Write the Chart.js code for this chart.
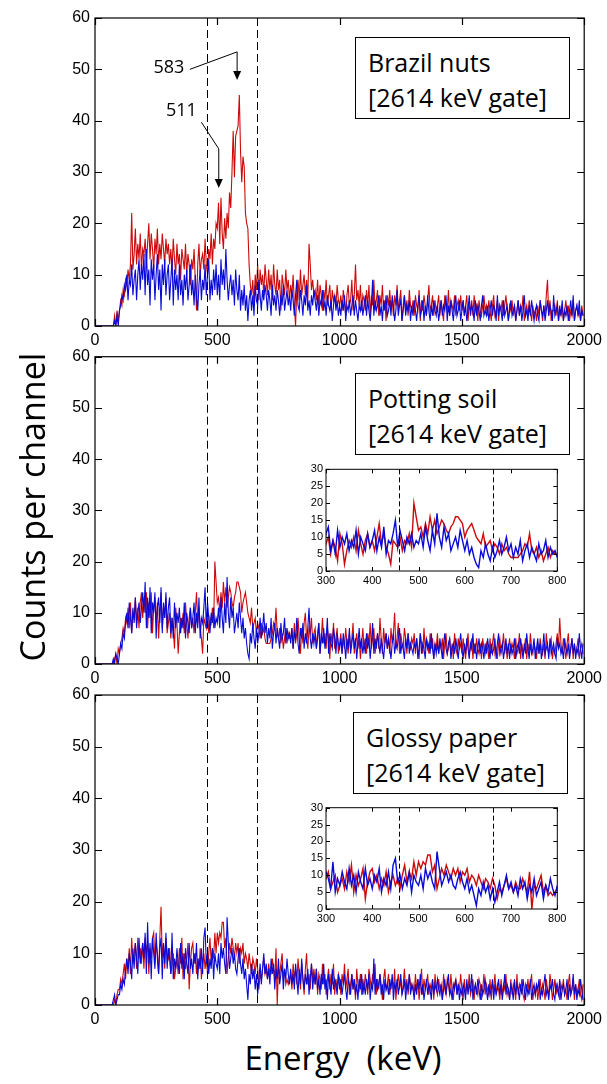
<!DOCTYPE html>
<html>
<head>
<meta charset="utf-8">
<script src="https://cdn.jsdelivr.net/npm/chart.js@4.4.1/dist/chart.umd.min.js"></script>
<style>
    body { margin: 0; background: #fff; width: 607px; height: 1084px; position: relative; overflow: hidden; font-family: 'Open Sans', sans-serif; }
    canvas { position: absolute; }
    .box { position: absolute; border: 1px solid #000; background: #fff; box-sizing: border-box; width: 215px; height: 82px; padding: 7px 0 0 12px; font-size: 25px; line-height: 35px; color: #000; white-space: nowrap; }
    .ytitle { position: absolute; left: -168px; top: 487px; width: 400px; height: 40px; line-height: 40px; text-align: center; font-size: 34px; transform: rotate(-90deg); }
    .xtitle { position: absolute; left: 143px; top: 1036px; width: 400px; height: 44px; line-height: 44px; text-align: center; font-size: 33px; white-space: pre; }
</style>
</head>
<body>
<canvas id="p1" width="607" height="352" style="left:0;top:0"></canvas>
<canvas id="p2" width="607" height="350" style="left:0;top:340px"></canvas>
<canvas id="p3" width="607" height="351" style="left:0;top:680px"></canvas>
<canvas id="i2" width="290" height="132" style="left:280px;top:459px"></canvas>
<canvas id="i3" width="290" height="132" style="left:280px;top:797px"></canvas>

<div class="box" style="left:355px;top:37px">Brazil nuts<br>[2614 keV gate]</div>
<div class="box" style="left:355px;top:373px">Potting soil<br>[2614 keV gate]</div>
<div class="box" style="left:353px;top:712px">Glossy paper<br>[2614 keV gate]</div>
<div class="ytitle">Counts per channel</div>
<div class="xtitle">Energy  (keV)</div>

<script>
// channel width in keV, channel i sits at i * BIN
const BIN = 5;
const GATES = [458, 662];

// Brazil nuts
const nutsRed = [
    0,0,0,0,0,0,0,0,0,0,0,0,0,0,0,0,2,0,3,1,
    3,5,4,7,6,9,8,11,9,12,22,11,14,19,12,16,13,18,11,15,
    14,17,12,16,20,13,18,15,11,17,14,19,12,16,13,18,15,12,17,14,
    16,12,15,11,17,13,10,16,12,14,9,15,13,11,16,10,14,12,8,13,
    11,15,9,3,12,16,10,13,14,11,17,12,10,15,13,18,12,17,15,20,
    19,24,16,25,18,15,21,17,22,19,26,23,30,38,29,37,38,39,45,34,
    28,33,31,22,20,19,12,8,6,9,4,10,7,12,5,11,8,10,6,12,
    9,6,11,7,10,5,12,8,6,11,7,9,3,10,8,6,11,7,9,5,
    8,6,10,4,0,7,9,5,11,6,8,10,6,9,5,16,12,7,9,6,
    7,5,9,4,8,6,3,7,5,9,4,6,8,3,7,5,6,4,8,5,
    4,6,3,7,5,2,6,8,4,5,9,3,6,12,5,7,4,8,3,6,
    5,3,7,4,8,2,6,4,9,3,5,7,2,6,4,8,3,5,1,6,
    4,7,3,5,2,6,4,8,3,5,7,1,4,6,3,5,2,7,4,3,
    5,2,6,4,3,7,1,5,3,6,4,2,5,8,3,4,6,2,5,3,
    4,6,2,5,3,1,6,4,3,7,2,5,4,3,6,2,4,5,3,6,
    3,5,2,4,6,1,4,3,5,2,6,3,4,1,5,3,2,4,6,3,
    4,2,5,3,1,4,6,2,3,5,1,4,3,5,2,4,6,3,1,4,
    3,5,2,4,1,3,5,2,4,3,6,1,3,4,2,5,3,1,4,2,
    3,1,4,2,5,3,1,4,2,6,9,2,5,1,3,3,4,2,5,1,
    3,2,4,1,3,5,2,4,1,3,2,5,1,3,4,2,3,1,4,2
];
const nutsBlue = [
    0,0,0,0,0,0,0,0,0,0,0,0,0,0,0,0,1,0,2,0,
    3,4,6,5,8,7,10,5,9,8,12,6,9,11,5,10,13,7,12,9,
    14,6,15,8,11,4,13,9,12,5,10,14,7,11,3,12,8,13,6,10,
    12,5,9,13,4,11,7,10,5,12,6,9,4,10,7,11,5,8,12,6,
    9,4,10,6,3,8,11,5,9,7,12,6,10,13,5,9,6,11,7,12,
    6,10,5,13,8,11,7,15,9,5,8,10,6,9,4,11,7,5,10,3,
    7,4,8,3,6,1,5,7,3,6,2,8,5,4,9,6,3,7,5,8,
    6,3,7,5,2,8,4,6,3,7,5,2,6,4,8,3,5,7,4,6,
    3,7,5,2,6,9,4,3,7,5,2,6,4,8,3,5,2,6,4,7,
    5,3,6,2,5,4,7,3,5,2,6,4,3,5,1,4,6,3,5,2,
    4,2,5,3,6,1,4,3,5,2,4,6,2,5,3,1,4,3,5,2,
    4,6,2,5,3,1,4,9,2,5,3,4,6,2,4,1,5,3,6,2,
    3,5,2,6,4,1,3,7,2,4,5,1,3,6,2,4,3,5,1,4,
    2,5,3,1,4,6,2,3,5,1,4,2,6,3,1,4,2,5,3,2,
    4,1,3,5,2,4,3,6,1,4,2,5,3,1,4,6,2,3,5,1,
    3,5,2,4,1,3,6,2,4,3,1,5,2,4,3,1,4,6,2,3,
    2,4,1,3,5,2,4,3,1,6,2,4,3,1,5,2,3,4,1,3,
    5,2,3,4,1,3,5,2,4,1,3,6,2,3,1,4,2,5,3,1,
    3,4,2,1,5,3,2,4,1,3,5,2,4,3,1,6,2,3,4,1,
    4,2,5,1,3,2,4,1,3,5,2,6,1,3,4,2,5,1,3,2
];

// Potting soil
const soilRed = [
    0,0,0,0,0,0,0,0,0,0,0,0,0,0,0,0,1,2,0,3,
    2,4,5,7,6,9,8,11,7,12,6,10,9,13,8,11,7,12,14,9,
    13,10,14,7,12,9,14,6,11,13,8,12,5,10,14,7,11,9,13,6,
    8,10,5,9,7,3,11,8,2,6,9,7,10,6,12,8,5,9,11,7,
    9,6,10,14,8,11,7,5,2,9,8,7,10,6,9,8,11,7,20,16,
    12,13,10,14,11,16,12,15,11,13,15,14,12,11,13,14,16,16,15,14,
    10,12,13,14,12,10,9,8,11,7,8,9,6,8,7,5,8,6,7,5,
    4,4,4,4,5,6,8,7,11,6,5,7,4,6,3,5,7,4,6,5,
    5,7,3,8,4,6,9,5,2,7,4,8,10,5,3,7,6,9,4,6,
    7,3,6,8,2,5,9,4,6,3,7,5,1,6,4,8,3,5,7,2,
    4,6,2,5,3,7,4,2,6,3,5,8,2,4,6,3,5,1,4,7,
    3,5,2,6,4,8,3,5,7,2,4,6,3,9,5,2,7,4,6,3,
    5,2,7,4,6,10,3,5,8,2,6,4,3,7,5,2,6,4,3,5,
    4,6,2,5,3,1,6,4,2,7,3,5,4,2,6,3,5,1,4,3,
    6,2,4,3,5,1,4,6,2,3,5,2,4,1,6,3,2,5,3,4,
    2,5,3,1,4,6,2,3,5,1,4,2,5,3,2,4,1,5,3,2,
    4,3,1,5,2,4,6,2,3,1,4,5,2,3,6,2,4,1,3,5,
    2,4,3,1,5,2,3,6,1,4,2,3,5,1,4,2,6,3,2,4,
    3,1,4,2,5,3,2,4,1,6,3,2,4,5,1,3,2,4,6,3,
    9,4,2,5,3,1,4,6,2,3,5,1,4,2,3,5,1,3,4,2
];
const soilBlue = [
    0,0,0,0,0,0,0,0,0,0,0,0,0,0,0,1,0,2,1,0,
    2,4,3,6,5,8,10,7,12,9,6,11,8,13,7,10,12,8,11,14,
    10,16,7,13,9,15,6,12,10,14,5,11,13,8,15,6,12,9,14,7,
    11,13,6,9,5,12,7,10,8,11,6,9,7,12,5,10,8,6,11,7,
    9,12,6,10,7,13,5,9,8,11,15,7,12,9,6,10,8,11,7,9,
    8,11,7,13,9,6,12,8,17,10,7,13,9,11,6,8,10,7,12,9,
    6,9,5,7,4,2,1,6,4,8,5,3,7,4,6,9,5,7,10,6,
    8,4,7,5,9,3,6,8,4,7,5,3,8,5,6,9,4,7,5,6,
    4,7,3,6,5,9,4,2,7,5,8,3,6,4,7,11,5,3,6,4,
    6,3,5,8,2,6,4,7,3,5,9,2,6,4,3,7,5,2,6,4,
    3,5,2,6,4,1,5,3,7,2,4,6,3,5,1,4,7,3,5,2,
    4,2,6,3,5,1,4,8,2,5,3,6,4,2,5,3,1,4,6,3,
    5,3,1,4,6,2,4,3,5,7,2,4,3,1,5,3,6,2,4,3,
    2,4,3,5,1,3,6,2,4,3,1,5,3,4,2,6,3,1,4,2,
    4,2,5,3,1,4,6,3,2,4,5,1,3,4,2,5,3,1,4,6,
    3,1,4,2,5,3,1,4,3,6,2,4,1,3,5,2,4,3,1,4,
    2,5,3,1,4,2,3,5,1,4,6,2,3,4,1,3,5,2,4,1,
    4,2,3,5,1,3,4,2,5,3,1,4,2,6,3,1,4,2,3,5,
    1,3,5,2,4,1,3,6,2,3,4,1,5,2,3,4,2,1,5,3,
    4,2,3,1,5,3,2,4,1,3,5,2,4,1,3,2,6,3,1,4
];

// Glossy paper
const paperRed = [
    0,0,0,0,0,0,0,0,0,0,0,0,0,0,0,0,1,0,2,3,
    3,5,4,6,8,5,9,7,11,6,13,8,10,12,7,13,9,11,8,12,
    7,13,10,12,6,11,9,13,14,8,12,10,6,13,19,9,12,7,13,10,
    9,11,6,8,10,5,7,9,6,11,8,13,5,10,7,9,12,3,8,11,
    12,8,10,6,9,7,11,5,8,10,7,9,6,10,13,8,11,9,14,10,
    14,12,14,13,16,16,11,13,6,9,12,10,13,11,9,12,10,12,8,11,
    10,12,8,10,9,7,10,8,6,9,8,6,9,7,3,6,5,7,9,6,
    7,5,8,6,6,9,7,5,11,0,7,6,8,10,5,7,4,5,4,5,
    6,3,8,5,7,4,9,6,3,8,5,2,7,10,4,6,3,8,5,7,
    4,7,2,6,5,3,8,4,6,2,5,7,3,6,4,8,2,5,3,6,
    5,2,6,4,8,3,5,7,2,4,6,3,5,1,7,4,3,6,2,5,
    3,6,4,2,7,5,3,6,4,8,2,5,3,6,4,1,5,7,3,4,
    6,2,4,5,3,7,1,4,6,3,5,2,4,7,3,5,2,6,4,3,
    4,2,6,3,5,1,4,7,2,5,3,4,6,2,4,3,5,1,6,3,
    2,5,3,4,1,6,3,2,5,4,2,6,3,1,4,5,2,4,3,6,
    3,1,5,2,4,3,6,2,3,5,1,4,3,2,5,4,1,3,6,2,
    4,3,2,5,1,4,3,6,2,4,3,1,5,2,4,3,6,2,3,1,
    5,2,4,3,1,6,2,4,3,5,2,1,4,3,5,2,4,6,1,3,
    2,4,1,3,5,2,4,3,1,5,3,2,6,4,1,3,5,2,4,3,
    1,4,3,5,2,3,1,4,6,2,3,5,1,4,2,3,5,2,1,4
];
const paperBlue = [
    0,0,0,0,0,0,0,0,0,0,0,0,0,0,0,1,2,0,1,2,
    2,4,3,5,4,7,9,6,10,8,5,11,7,12,9,6,13,8,10,12,
    9,14,6,16,8,12,5,13,10,7,14,9,6,11,13,5,12,8,14,7,
    11,9,6,14,5,9,7,11,8,6,12,7,10,5,11,8,6,12,7,9,
    6,10,8,12,5,9,7,11,6,13,15,8,10,6,9,7,11,5,10,8,
    7,10,6,12,9,11,8,6,17,12,7,9,11,8,10,7,6,9,11,8,
    6,9,5,7,4,1,6,4,8,5,7,3,6,2,5,8,4,7,10,6,
    8,5,7,4,9,6,8,3,7,5,9,4,6,8,3,7,5,9,6,4,
    7,4,6,3,8,5,2,7,4,9,5,3,6,4,7,2,5,8,3,6,
    4,7,3,5,2,6,4,8,3,5,1,6,4,2,7,3,5,4,2,6,
    3,5,2,4,6,3,1,5,4,2,6,3,5,2,4,1,5,3,6,2,
    4,2,5,3,6,1,4,3,9,2,5,3,4,6,2,4,1,5,3,4,
    2,5,3,6,1,4,3,5,2,4,6,2,3,5,1,4,3,6,2,4,
    3,1,4,2,5,3,6,2,4,1,3,5,2,4,3,1,5,2,4,3,
    5,3,2,4,1,3,5,2,4,6,2,3,1,4,3,5,2,4,1,3,
    2,4,3,1,5,2,4,3,6,1,3,4,2,5,3,1,4,2,3,5,
    3,1,4,2,3,5,1,4,2,3,5,2,4,1,3,6,2,4,3,1,
    4,3,1,5,2,4,3,1,4,2,5,3,1,4,2,3,5,1,3,4,
    2,4,3,5,1,3,2,4,6,2,3,1,4,3,5,2,1,4,3,2,
    5,1,3,4,2,3,5,1,4,2,3,6,2,4,1,3,2,5,3,1
];

const RED = '#cc0a0a';
const BLUE = '#0a0ad8';
const TICK_FONT = "'Liberation Sans', Arial, sans-serif";

function toPoints(counts) {
    return counts.map((c, i) => ({ x: i * BIN, y: c }));
}

// box, inward ticks on all four sides, dashed gate lines
const framePlugin = {
    id: 'frame',
    beforeDatasetsDraw(chart, args, o) {
        if (!o.fill) return;
        const a = chart.chartArea;
        chart.ctx.save();
        chart.ctx.fillStyle = '#fff';
        chart.ctx.fillRect(a.left, a.top, a.width, a.height);
        chart.ctx.restore();
    },
    afterDatasetsDraw(chart, args, o) {
        const { ctx, chartArea: a, scales: { x, y } } = chart;
        ctx.save();
        ctx.strokeStyle = '#000';
        ctx.lineWidth = 1;
        ctx.setLineDash(o.dash);
        GATES.forEach(g => {
            const px = Math.round(x.getPixelForValue(g)) + 0.5;
            ctx.beginPath();
            ctx.moveTo(px, a.top);
            ctx.lineTo(px, a.bottom);
            ctx.stroke();
        });
        ctx.setLineDash([]);
        ctx.lineWidth = o.width;
        ctx.beginPath();
        x.ticks.forEach(t => {
            const px = Math.round(x.getPixelForValue(t.value)) + 0.5;
            ctx.moveTo(px, a.bottom); ctx.lineTo(px, a.bottom - o.len);
            ctx.moveTo(px, a.top); ctx.lineTo(px, a.top + o.len);
        });
        y.ticks.forEach(t => {
            const py = Math.round(y.getPixelForValue(t.value)) + 0.5;
            ctx.moveTo(a.left, py); ctx.lineTo(a.left + o.len, py);
            ctx.moveTo(a.right, py); ctx.lineTo(a.right - o.len, py);
        });
        ctx.stroke();
        ctx.strokeRect(a.left, a.top, a.right - a.left, a.bottom - a.top);
        ctx.restore();
    }
};

// 583 / 511 labels with leader lines and arrows (data coordinates)
const peakNotes = {
    id: 'peakNotes',
    afterDatasetsDraw(chart, args, o) {
        if (!o.notes) return;
        const { ctx, scales: { x, y } } = chart;
        ctx.save();
        ctx.strokeStyle = '#000';
        ctx.fillStyle = '#000';
        ctx.lineWidth = 1;
        ctx.font = "18px 'Open Sans'";
        ctx.textAlign = 'center';
        ctx.textBaseline = 'middle';
        o.notes.forEach(n => {
            ctx.fillText(n.text, x.getPixelForValue(n.at[0]), y.getPixelForValue(n.at[1]));
            const ex = x.getPixelForValue(n.elbow[0]);
            const ey = y.getPixelForValue(n.elbow[1]);
            const ty = y.getPixelForValue(n.tip);
            ctx.beginPath();
            ctx.moveTo(x.getPixelForValue(n.from[0]), y.getPixelForValue(n.from[1]));
            ctx.lineTo(ex, ey);
            ctx.lineTo(ex, ty - 8);
            ctx.stroke();
            ctx.beginPath();
            ctx.moveTo(ex - 4, ty - 9);
            ctx.lineTo(ex + 4, ty - 9);
            ctx.lineTo(ex, ty);
            ctx.closePath();
            ctx.fill();
        });
        ctx.restore();
    }
};

function spectrum(id, red, blue, o) {
    return new Chart(document.getElementById(id), {
        type: 'line',
        data: {
            datasets: [
                { data: toPoints(blue), borderColor: BLUE, borderWidth: o.lw },
                { data: toPoints(red), borderColor: RED, borderWidth: o.lw }
            ]
        },
        options: {
            responsive: false,
            animation: false,
            events: [],
            elements: { point: { radius: 0 }, line: { tension: 0 } },
            layout: { autoPadding: false, padding: { top: o.top, right: o.right, left: 0, bottom: 0 } },
            plugins: {
                legend: { display: false },
                tooltip: { enabled: false },
                frame: { dash: o.dash, len: o.len, width: o.fw, fill: o.fill },
                peakNotes: { notes: o.notes }
            },
            scales: {
                x: {
                    type: 'linear', min: o.xmin, max: o.xmax,
                    grid: { display: false, drawTicks: false }, border: { display: false },
                    ticks: { stepSize: o.xstep, autoSkip: false, maxRotation: 0, padding: o.pad, color: '#000',
                             font: { family: TICK_FONT, size: o.fs }, callback: v => String(v) },
                    afterFit: s => { s.height = o.xh; }
                },
                y: {
                    min: 0, max: o.ymax,
                    grid: { display: false, drawTicks: false }, border: { display: false },
                    ticks: { stepSize: o.ystep, padding: o.pad, color: '#000',
                             font: { family: TICK_FONT, size: o.fs }, callback: v => String(v) },
                    afterFit: s => { s.width = o.yw; }
                }
            }
        },
        plugins: [framePlugin, peakNotes]
    });
}

const mainOpts = { xmin: 0, xmax: 2000, xstep: 500, ymax: 60, ystep: 10, lw: 1.1, fs: 16, pad: 5,
                   xh: 26, yw: 95, right: 22, len: 7, fw: 1.2, dash: [8, 4], fill: false };
const insetOpts = { xmin: 300, xmax: 800, xstep: 100, ymax: 30, ystep: 5, lw: 1.4, fs: 11, pad: 3,
                    xh: 20, yw: 46, right: 12.7, len: 4, fw: 1, dash: [5, 3], fill: true };

spectrum('p1', nutsRed, nutsBlue, Object.assign({}, mainOpts, {
    top: 18,
    notes: [
        { text: '583', at: [302, 50.3], from: [388, 50.0], elbow: [581, 53.4], tip: 47.9 },
        { text: '511', at: [353, 42.0], from: [435, 39.7], elbow: [506, 34.5], tip: 26.9 }
    ]
}));
spectrum('p2', soilRed, soilBlue, Object.assign({}, mainOpts, { top: 16.7 }));
spectrum('p3', paperRed, paperBlue, Object.assign({}, mainOpts, { top: 15 }));
spectrum('i2', soilRed, soilBlue, Object.assign({}, insetOpts, { top: 10.3 }));
spectrum('i3', paperRed, paperBlue, Object.assign({}, insetOpts, { top: 10.7 }));
</script>
</body>
</html>
